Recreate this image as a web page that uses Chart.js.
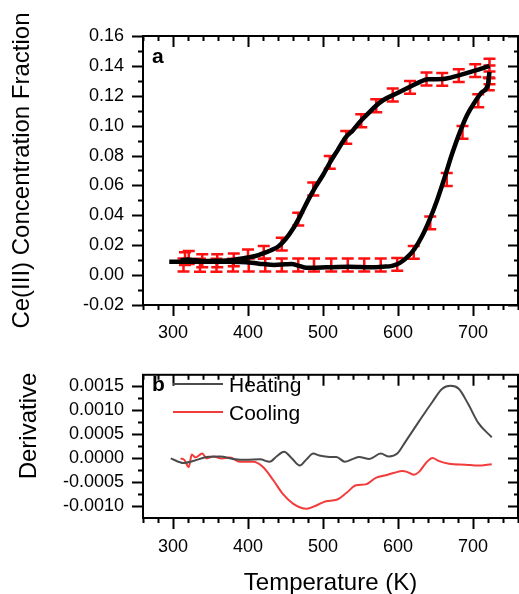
<!DOCTYPE html>
<html>
<head>
<meta charset="utf-8">
<script src="https://cdn.jsdelivr.net/npm/chart.js@4.4.0/dist/chart.umd.min.js"></script>
<style>
  html, body { margin: 0; padding: 0; background: #fff; overflow: hidden; }
  #wrap { position: relative; width: 519px; height: 594px; }
  canvas { position: absolute; left: 0; }
  #chartA { top: 0; }
  #chartB { top: 345px; }
</style>
</head>
<body>
<div id="wrap">
  <canvas id="chartA" width="519" height="345"></canvas>
  <canvas id="chartB" width="519" height="249"></canvas>
</div>
<script>
// ---- panel a: Ce(III) fraction, heating (lower branch) and cooling (upper branch)
const heatTemp = [295, 310, 330, 350, 370, 390, 405, 420, 435, 450, 458, 468, 478, 490, 505, 520, 535, 550, 565, 580, 592, 602, 612, 622, 632, 642, 652, 662, 672, 682, 692, 702, 712, 720, 721, 722];
const heatFrac = [0.0090, 0.0090, 0.0089, 0.0089, 0.0090, 0.0088, 0.0083, 0.0074, 0.0068, 0.0072, 0.0074, 0.0062, 0.0049, 0.0050, 0.0052, 0.0055, 0.0056, 0.0054, 0.0052, 0.0056, 0.0062, 0.0080, 0.0118, 0.0175, 0.0260, 0.0370, 0.0500, 0.0650, 0.0810, 0.0950, 0.1070, 0.1155, 0.1225, 0.1275, 0.1320, 0.1360];
const coolTemp = [310, 320, 340, 360, 380, 400, 410, 420, 430, 440, 450, 460, 470, 480, 490, 500, 510, 520, 530, 540, 550, 560, 570, 580, 600, 620, 630, 640, 660, 680, 700, 710, 722];
const coolFrac = [0.0100, 0.0105, 0.0095, 0.0096, 0.0102, 0.0118, 0.0128, 0.0145, 0.0165, 0.0190, 0.0240, 0.0310, 0.0400, 0.0500, 0.0590, 0.0670, 0.0760, 0.0840, 0.0920, 0.0970, 0.1030, 0.1080, 0.1130, 0.1170, 0.1220, 0.1270, 0.1295, 0.1310, 0.1312, 0.1335, 0.1365, 0.1380, 0.1400];

// error bar points (centre values)
const errHeatTemp = [314, 336, 358, 380, 401, 423, 445, 467, 488, 511, 533, 555, 577, 599, 621, 643, 665, 686, 707, 721, 722, 722];
const errHeatFrac = [0.0068, 0.0066, 0.0066, 0.0067, 0.0068, 0.0068, 0.0068, 0.0068, 0.0068, 0.0068, 0.0068, 0.0068, 0.0068, 0.0072, 0.0152, 0.0350, 0.0640, 0.0955, 0.1167, 0.1280, 0.1320, 0.1360];
const errCoolTemp = [722, 703, 681, 659, 638, 616, 593, 571, 551, 531, 509, 487, 467, 445, 421, 400, 381, 359, 339, 321, 316];
const errCoolFrac = [0.1405, 0.1368, 0.1335, 0.1310, 0.1312, 0.1256, 0.1205, 0.1133, 0.1033, 0.0922, 0.0754, 0.0576, 0.0375, 0.0207, 0.0152, 0.0129, 0.0102, 0.0096, 0.0096, 0.0118, 0.0110];
const errHalf = 0.0043;

// ---- panel b: derivative
const derivHeatTemp = [297, 314, 328, 345, 363, 380, 398, 416, 429, 438, 448, 458, 469, 478, 487, 495, 509, 518, 529, 540, 548, 562, 577, 588, 599, 610, 628, 646, 659, 670, 681, 694, 707, 725];
const derivHeat = [0, -0.000095, -0.00005, 0.00003, 0.00004, -0.00001, -0.00003, -0.00002, -0.00007, 0.00004, 0.00014, 0.00001, -0.00015, -0.00002, 0.0001, 0.00006, 0.00003, 0.00003, -0.00007, -0.00001, 0.00003, -0.00001, 0.0001, 0.00004, 0.0001, 0.00035, 0.00077, 0.00118, 0.00145, 0.00151, 0.00145, 0.00112, 0.00074, 0.00044];
const derivCoolTemp = [310, 315, 321, 325, 330, 339, 345, 354, 365, 376, 389, 407, 420, 434, 447, 460, 478, 491, 504, 518, 531, 544, 557, 571, 584, 595, 606, 612, 621, 628, 637, 646, 654, 668, 690, 707, 725];
const derivCool = [0, -0.00003, -0.00018, 0.00008, 0.00002, 0.0001, 0, 0.00004, 0, 0.00002, -0.00007, -0.00007, -0.00018, -0.00046, -0.00075, -0.00094, -0.00105, -0.00098, -0.00089, -0.00086, -0.00072, -0.00056, -0.00054, -0.0004, -0.00035, -0.0003, -0.00026, -0.00028, -0.00034, -0.00028, -0.0001, 0.00001, -0.00005, -0.00011, -0.00013, -0.00015, -0.00012];

// tick labels
const tempTicks = [300, 400, 500, 600, 700];
const fracTicks = [-0.02, 0, 0.02, 0.04, 0.06, 0.08, 0.10, 0.12, 0.14, 0.16];
const derivTicks = [-0.001, -0.0005, 0, 0.0005, 0.001, 0.0015];

const FONT = "'Liberation Sans', Arial, sans-serif";
Chart.defaults.font.family = FONT;
Chart.defaults.color = '#000';

const pts = (xs, ys) => xs.map((x, i) => ({x: x, y: ys[i]}));

// red error bars, drawn under the lines
const errorBars = {
  id: 'errorBars',
  beforeDatasetsDraw(chart) {
    const {ctx, scales: {x, y}} = chart;
    ctx.save();
    ctx.strokeStyle = '#ff1010';
    ctx.lineWidth = 2.5;
    ctx.beginPath();
    chart.data.datasets.forEach(ds => {
      if (!ds.errT) return;
      ds.errT.forEach((t, i) => {
        const px = x.getPixelForValue(t);
        const top = y.getPixelForValue(ds.errV[i] + errHalf);
        const bot = y.getPixelForValue(ds.errV[i] - errHalf);
        ctx.moveTo(px, top); ctx.lineTo(px, bot);
        ctx.moveTo(px - 6, top); ctx.lineTo(px + 6, top);
        ctx.moveTo(px - 6, bot); ctx.lineTo(px + 6, bot);
      });
    });
    ctx.stroke();
    ctx.restore();
  }
};

// Origin style frame: outward ticks left/bottom, inward ticks top/right
const frameTicks = {
  id: 'frameTicks',
  afterDraw(chart, args, o) {
    const {ctx, chartArea: a, scales: {x, y}} = chart;
    ctx.save();
    ctx.strokeStyle = '#000';
    ctx.lineWidth = 2;
    ctx.beginPath();
    for (let i = Math.ceil(x.min / o.xStep); i * o.xStep <= x.max; i++) {
      const px = Math.round(x.getPixelForValue(i * o.xStep)) + 0.5;
      const major = i % o.xEvery === 0;
      const len = major ? 11 : 5;
      ctx.moveTo(px, a.bottom); ctx.lineTo(px, a.bottom + len);
      ctx.moveTo(px, a.top); ctx.lineTo(px, a.top + len);
    }
    for (let i = Math.ceil(y.min / o.yStep - 1e-9); i * o.yStep <= y.max + 1e-12; i++) {
      const py = Math.round(y.getPixelForValue(i * o.yStep)) + 0.5;
      const major = i % o.yEvery === 0;
      const len = major ? 11 : 5;
      ctx.moveTo(a.left, py); ctx.lineTo(a.left - len, py);
      ctx.moveTo(a.right, py); ctx.lineTo(a.right - len + 1, py);
    }
    ctx.stroke();
    ctx.strokeRect(a.left, a.top, a.right - a.left, a.bottom - a.top);
    ctx.restore();
  }
};

// panel letters, legend and left title for panel b
const notes = {
  id: 'notes',
  afterDraw(chart, args, o) {
    const {ctx} = chart;
    ctx.save();
    ctx.fillStyle = '#000';
    ctx.textBaseline = 'middle';
    ctx.font = 'bold 21px ' + FONT;
    ctx.fillText(o.letter, o.letterX, o.letterY);
    if (o.legend) {
      ctx.font = '21px ' + FONT;
      chart.data.datasets.forEach((ds, i) => {
        const ly = o.legendY + i * 28;
        ctx.strokeStyle = ds.borderColor;
        ctx.lineWidth = 2;
        ctx.beginPath();
        ctx.moveTo(173, ly); ctx.lineTo(223, ly);
        ctx.stroke();
        ctx.fillText(ds.label, 229, ly + 2);
      });
    }
    if (o.yTitle) {
      ctx.font = '24px ' + FONT;
      ctx.textAlign = 'center';
      ctx.translate(o.yTitleX, o.yTitleY);
      ctx.rotate(-Math.PI / 2);
      ctx.fillText(o.yTitle, 0, 0);
    }
    ctx.restore();
  }
};

const tickFont = {family: FONT, size: 18};

new Chart(document.getElementById('chartA'), {
  type: 'line',
  data: {
    datasets: [
      {label: 'Heating', data: pts(heatTemp, heatFrac), errT: errHeatTemp, errV: errHeatFrac,
       borderColor: '#000', borderWidth: 4.5, pointRadius: 0, cubicInterpolationMode: 'monotone'},
      {label: 'Cooling', data: pts(coolTemp, coolFrac), errT: errCoolTemp, errV: errCoolFrac,
       borderColor: '#000', borderWidth: 4.5, pointRadius: 0, cubicInterpolationMode: 'monotone'}
    ]
  },
  options: {
    responsive: false, animation: false, devicePixelRatio: 1,
    layout: {padding: {top: 36, right: 1, left: 0, bottom: 0}},
    plugins: {
      legend: {display: false}, tooltip: {enabled: false},
      frameTicks: {xStep: 20, xEvery: 5, yStep: 0.01, yEvery: 2},
      notes: {letter: 'a', letterX: 152, letterY: 57}
    },
    scales: {
      x: {
        type: 'linear', min: 260, max: 760,
        grid: {display: false, drawTicks: false}, border: {display: false},
        afterBuildTicks: s => { s.ticks = tempTicks.map(v => ({value: v})); },
        afterFit: s => { s.height = 40; },
        ticks: {padding: 17, font: tickFont, maxRotation: 0, autoSkip: false, callback: v => String(v)}
      },
      y: {
        type: 'linear', min: -0.02, max: 0.16,
        grid: {display: false, drawTicks: false}, border: {display: false},
        afterBuildTicks: s => { s.ticks = fracTicks.map(v => ({value: v})); },
        afterFit: s => { s.width = 143; },
        ticks: {padding: 19, font: tickFont, autoSkip: false, callback: v => v.toFixed(2)},
        title: {display: true, text: 'Ce(III) Concentration Fraction', font: {family: FONT, size: 24}, padding: {top: 8, bottom: 0}}
      }
    }
  },
  plugins: [errorBars, frameTicks, notes]
});

new Chart(document.getElementById('chartB'), {
  type: 'line',
  data: {
    datasets: [
      {label: 'Heating', data: pts(derivHeatTemp, derivHeat), borderColor: '#4a4a4a', borderWidth: 2,
       pointRadius: 0, cubicInterpolationMode: 'monotone'},
      {label: 'Cooling', data: pts(derivCoolTemp, derivCool), borderColor: '#f23b3b', borderWidth: 2,
       pointRadius: 0, cubicInterpolationMode: 'monotone'}
    ]
  },
  options: {
    responsive: false, animation: false, devicePixelRatio: 1,
    layout: {padding: {top: 15, right: 1, left: 0, bottom: 0}},
    plugins: {
      legend: {display: false}, tooltip: {enabled: false},
      frameTicks: {xStep: 20, xEvery: 5, yStep: 0.00025, yEvery: 2},
      notes: {letter: 'b', letterX: 152, letterY: 40, legend: true, legendY: 39,
              yTitle: 'Derivative', yTitleX: 29, yTitleY: 81}
    },
    scales: {
      x: {
        type: 'linear', min: 260, max: 760,
        grid: {display: false, drawTicks: false}, border: {display: false},
        afterBuildTicks: s => { s.ticks = tempTicks.map(v => ({value: v})); },
        afterFit: s => { s.height = 76; },
        ticks: {padding: 18, font: tickFont, maxRotation: 0, autoSkip: false, callback: v => String(v)},
        title: {display: true, text: 'Temperature (K)', font: {family: FONT, size: 24}, padding: {top: 0, bottom: -4}}
      },
      y: {
        type: 'linear', min: -0.00124, max: 0.00174,
        grid: {display: false, drawTicks: false}, border: {display: false},
        afterBuildTicks: s => { s.ticks = derivTicks.map(v => ({value: v})); },
        afterFit: s => { s.width = 143; },
        ticks: {padding: 19, font: tickFont, autoSkip: false, callback: v => v.toFixed(4)}
      }
    }
  },
  plugins: [frameTicks, notes]
});
</script>
</body>
</html>
